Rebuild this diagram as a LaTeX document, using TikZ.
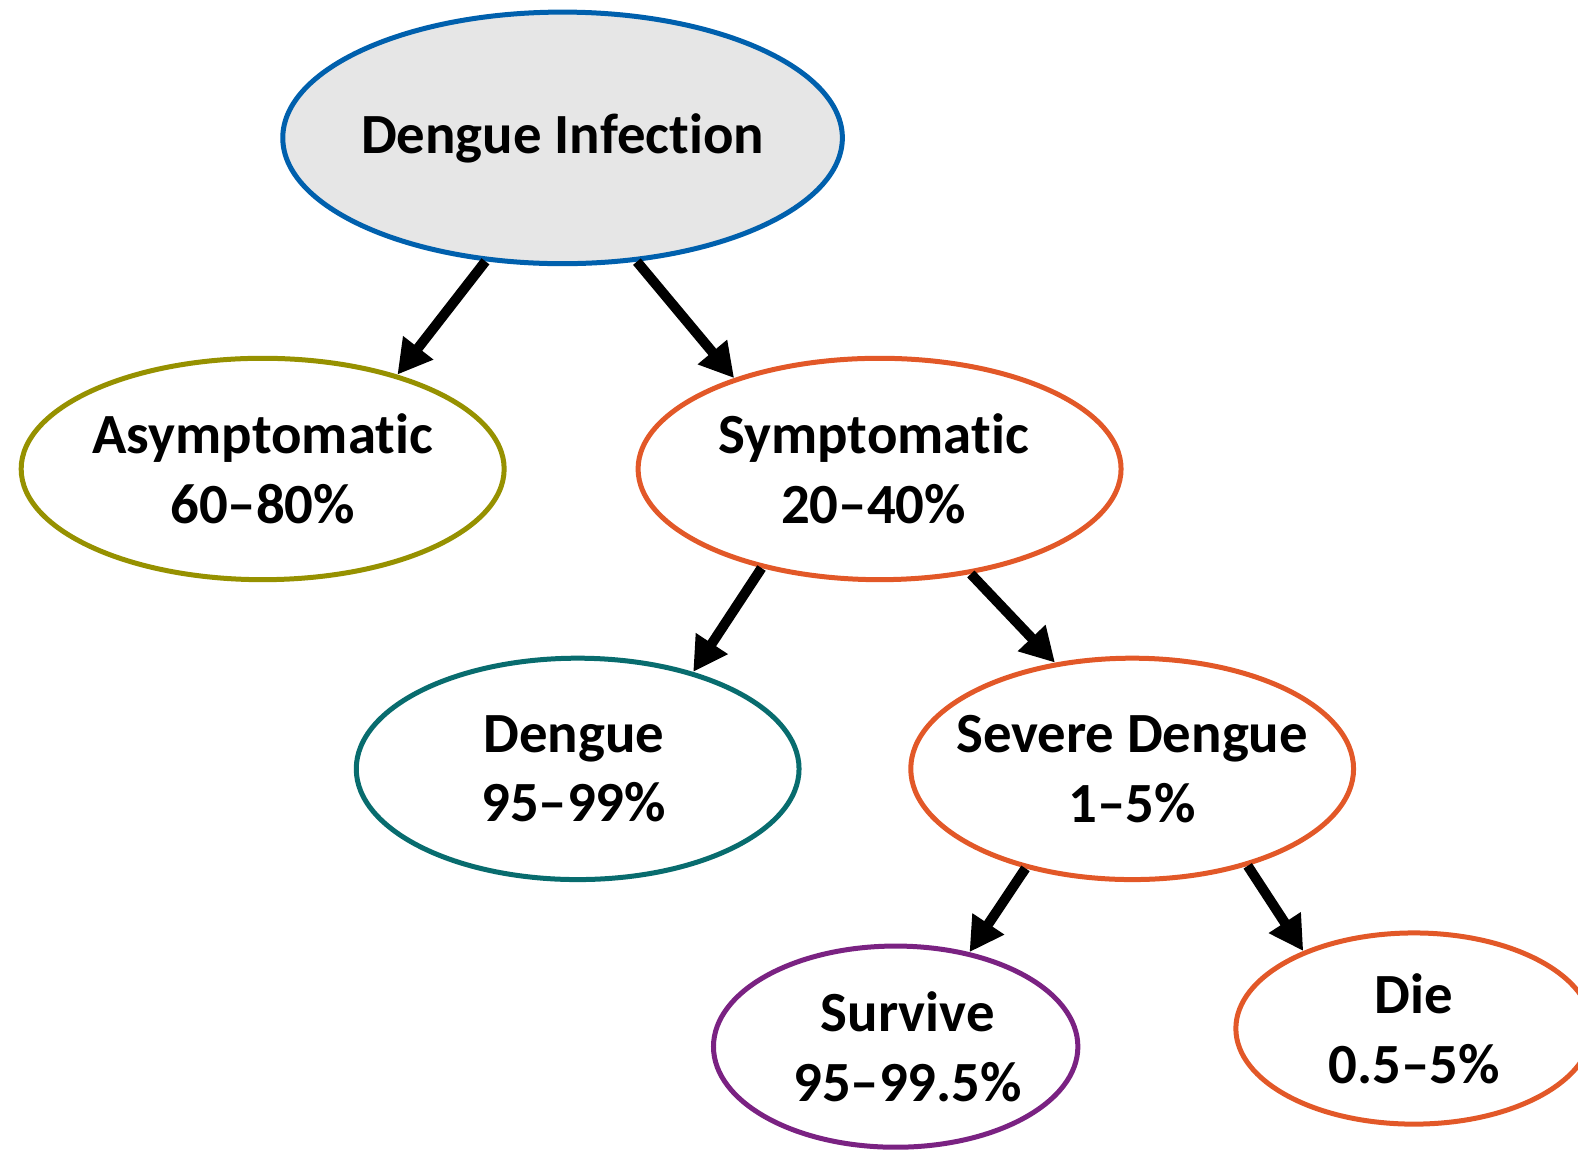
\documentclass[tikz,border=0pt]{standalone}
\usepackage{fontspec}
\setmainfont{Carlito}[Ligatures={TeX,NoCommon}]
\usetikzlibrary{shapes.geometric,arrows.meta}

\definecolor{infblue}{RGB}{0,96,173}
\definecolor{infgray}{RGB}{230,230,230}
\definecolor{asymolive}{RGB}{150,145,0}
\definecolor{sympred}{RGB}{226,88,40}
\definecolor{dengteal}{RGB}{8,108,110}
\definecolor{survpurple}{RGB}{122,34,130}

\tikzset{
    stage/.style={ellipse, draw, line width=2.5pt, inner sep=0pt},
    stagetext/.style={align=center, font=\fontsize{28.4}{34.8}\selectfont\bfseries},
    flow/.style={line width=5pt, -{Triangle[length=17pt,width=18pt]}}
}

\begin{document}
\begin{tikzpicture}[x=0.5032pt,y=-0.5032pt]
            \useasboundingbox (0,0) rectangle (1568,1144);

            \node[stage, draw=infblue, fill=infgray, minimum width=279.8pt, minimum height=125.8pt,
                label={[stagetext]center:Dengue Infection}] (infection) at (559,137) {};
            \node[stage, draw=asymolive, minimum width=241.5pt, minimum height=110.7pt,
                label={[stagetext]center:Asymptomatic\\60--80\%}] (asym) at (261,466) {};
            \node[stage, draw=sympred, minimum width=241.5pt, minimum height=110.7pt,
                label={[stagetext, xshift=-3pt]center:Symptomatic\\20--40\%}] (symp) at (874,466) {};
            \node[stage, draw=dengteal, minimum width=221.4pt, minimum height=110.7pt,
                label={[stagetext, xshift=-2pt]center:Dengue\\95--99\%}] (dengue) at (574,764) {};
            \node[stage, draw=sympred, minimum width=221.4pt, minimum height=110.7pt,
                label={[stagetext]center:Severe Dengue\\1--5\%}] (severe) at (1125,764) {};
            \node[stage, draw=survpurple, minimum width=182.2pt, minimum height=100.6pt,
                label={[stagetext, xshift=6pt]center:Survive\\95--99.5\%}] (survive) at (890,1040) {};
            \node[stage, draw=sympred, minimum width=178.1pt, minimum height=95.6pt,
                label={[stagetext]center:Die\\0.5--5\%}] (die) at (1405,1022) {};

            \draw[flow] (infection.238) -- (asym.35);
            \draw[flow] (infection.301) -- (symp.148);
            \draw[flow] (symp.220) -- (dengue.40);
            \draw[flow] (symp.311) -- (severe.126);
            \draw[flow] (severe.223) -- (survive.52);
            \draw[flow] (severe.320) -- (die.145);
\end{tikzpicture}
\end{document}
